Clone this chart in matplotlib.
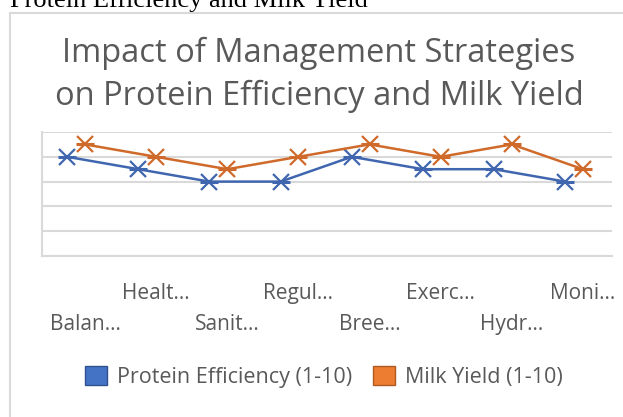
import matplotlib
matplotlib.use("Agg")
import matplotlib.pyplot as plt
from matplotlib.patches import Rectangle, Patch

categories = ["Balan…", "Healt…", "Sanit…", "Regul…", "Bree…", "Exerc…", "Hydr…", "Moni…"]
protein_eff = [8, 7, 6, 6, 8, 7, 7, 6]
milk_yield = [9, 8, 7, 8, 9, 8, 9, 7]
series_names = ["Protein Efficiency (1-10)", "Milk Yield (1-10)"]

W, H = 623, 417
fig = plt.figure(figsize=(W / 100, H / 100), dpi=100)

def fx(px):
    return px / W

def fy(py):
    return 1 - py / H

# outer chart border (extends beyond image)
fig.patches.append(Rectangle((fx(10), fy(430)), fx(640) - fx(10), fy(13) - fy(430),
                             transform=fig.transFigure, fill=False,
                             edgecolor="#D9D9D9", linewidth=1.5))

# clipped text at the very top
fig.text(fx(10), fy(7), "Protein Efficiency and Milk Yield", family="Liberation Serif",
         fontsize=19, color="#000000", ha="left", va="baseline")

ax = fig.add_axes([fx(42), fy(256), fx(612) - fx(42), fy(132) - fy(256)])
x = list(range(len(categories)))
blue_line = "#3F66AF"
orange_line = "#CF6A2A"
xb = [i - 0.25 for i in x]
ax.plot(xb, protein_eff, color=blue_line, lw=1.8, marker="x", ms=11, mew=1.6, zorder=3)
ax.plot(xb, protein_eff, ls="none", color=blue_line, marker="_", ms=13, mew=2.2, zorder=3)
ax.plot(x, milk_yield, color=orange_line, lw=1.8, marker="x", ms=11, mew=1.6, zorder=3)
ax.plot(x, milk_yield, ls="none", color=orange_line, marker="_", ms=13, mew=2.2, zorder=3)

ax.set_xlim(-0.604, 7.408)
ax.set_ylim(0, 10)
ax.set_yticks(range(0, 11, 2))
ax.yaxis.grid(True, color="#D9D9D9", lw=1.5)
ax.set_axisbelow(True)
ax.tick_params(axis="y", left=False, labelleft=False)
for s in ["top", "right"]:
    ax.spines[s].set_visible(False)
for s in ["left", "bottom"]:
    ax.spines[s].set_color("#D9D9D9")
    ax.spines[s].set_linewidth(1.5)
ax.set_xticks(x, categories)
ax.tick_params(axis="x", bottom=False)
for i, (tick, lab) in enumerate(zip(ax.xaxis.get_major_ticks(), ax.get_xticklabels())):
    tick.set_pad(16 if i % 2 == 1 else 38)
    lab.set_fontsize(15)
    lab.set_color("#595959")
    lab.set_family("Open Sans")

fig.text(fx(319), fy(62), "Impact of Management Strategies", family="Open Sans",
         fontsize=23.5, color="#595959", ha="center", va="baseline")
fig.text(fx(319), fy(105), "on Protein Efficiency and Milk Yield", family="Open Sans",
         fontsize=23.5, color="#595959", ha="center", va="baseline")

handles = [Patch(facecolor="#4472C4", edgecolor="#2F528F", lw=1),
           Patch(facecolor="#ED7D31", edgecolor="#AE5A21", lw=1)]
fig.legend(handles, series_names, loc="center", bbox_to_anchor=(fx(324), fy(377)),
           ncol=2, frameon=False, prop={"family": "Open Sans", "size": 15.5},
           labelcolor="#595959", handlelength=1.0, handleheight=1.0,
           handletextpad=0.46, columnspacing=1.0, borderpad=0, borderaxespad=0)

fig.savefig("out.png", dpi=100)
